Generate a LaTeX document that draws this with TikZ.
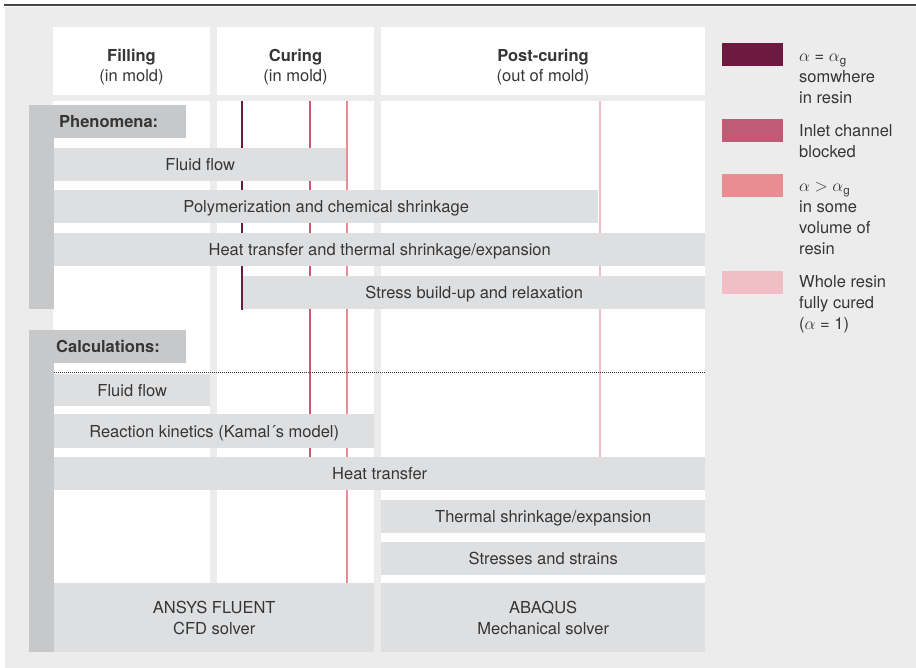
\documentclass[tikz,border=0pt]{standalone}
\usepackage{fontspec}
\setmainfont{TeX Gyre Heros}
\usetikzlibrary{positioning}

\definecolor{bggray}{HTML}{ECECEC}
\definecolor{barfill}{HTML}{DEDFE1}
\definecolor{tagfill}{HTML}{C7C8CA}
\definecolor{txt}{HTML}{363636}
\definecolor{rulegray}{HTML}{444444}
\definecolor{lnDark}{HTML}{6E1A40}
\definecolor{lnMed}{HTML}{C15B76}
\definecolor{lnLight}{HTML}{E98D92}
\definecolor{lnPale}{HTML}{F2BEC6}

\begin{document}
\begin{tikzpicture}[
			x = 1pt, y = -1pt,
			every node/.style = {font=\fontsize{16.5}{21}\selectfont, text=txt},
			colbox/.style = {fill=white, anchor=north west, inner sep=0pt},
			bar/.style    = {fill=barfill, anchor=north west, inner sep=0pt, minimum height=33pt, text height=12.5pt, text depth=0pt},
			solver/.style = {fill=barfill, anchor=north west, inner sep=0pt, minimum height=69pt, align=center},
			tag/.style    = {fill=tagfill, anchor=north west, inner sep=0pt, minimum width=157pt, minimum height=33pt},
			tagtext/.style = {anchor=west, inner sep=0pt, font=\fontsize{16.5}{21}\selectfont\bfseries},
			head/.style   = {anchor=base, inner sep=0pt, align=center, font=\fontsize{16.5}{19.5}\selectfont},
			swatch/.style = {anchor=north west, inner sep=0pt, minimum width=61pt, minimum height=23pt},
			legtext/.style = {anchor=base west, inner sep=0pt, align=left},
			phase/.style  = {line width=1.8pt}
			]
			\useasboundingbox (0,0) rectangle (916,668);

			% background and top rule
			\fill[bggray] (5,7) rectangle (916,668);
			\draw[rulegray, line width=1.5pt] (4,5) -- (916,5);

			% column headers
			\node[colbox, minimum width=157pt, minimum height=68pt] (hdFill) at (53,27) {};
			\node[colbox, minimum width=157pt, minimum height=68pt] (hdCure) at (217,27) {};
			\node[colbox, minimum width=324pt, minimum height=68pt] (hdPost) at (381,27) {};
			\node[head] (tFill) at (131.5,81.5) {\textbf{Filling}\\(in mold)};
			\node[head] (tCure) at (295.5,81.5) {\textbf{Curing}\\(in mold)};
			\node[head] (tPost) at (543,81.5) {\textbf{Post-curing}\\(out of mold)};

			% column bodies
			\node[colbox, minimum width=157pt, minimum height=482pt] (bdFill) at (53,101) {};
			\node[colbox, minimum width=157pt, minimum height=482pt] (bdCure) at (217,101) {};
			\node[colbox, minimum width=324pt, minimum height=482pt] (bdPost) at (381,101) {};

			% state lines
			\foreach \xx/\yy/\cc in {242/310/lnDark, 310/457/lnMed, 347/583/lnLight, 600/457/lnPale}
			\draw[phase, \cc] (\xx,101) -- (\xx,\yy);

			% phenomena
			\node[tag] (tagPhen) at (29,105) {};
			\fill[tagfill] (tagPhen.north west) rectangle (54,309);
			\node[tagtext] (lblPhen) at (59,121.5) {Phenomena:};
			\node[bar, minimum width=292pt] (phFluid) at (54,148) {Fluid flow};
			\node[bar, minimum width=544pt] (phPoly) at (54,190) {Polymerization and chemical shrinkage};
			\node[bar, minimum width=651pt] (phHeat) at (54,233) {Heat transfer and thermal shrinkage/expansion};
			\node[bar, minimum width=462pt] (phStress) at (243,276) {Stress build-up and relaxation};

			% calculations
			\node[tag] (tagCalc) at (29,330) {};
			\fill[tagfill] (tagCalc.north west) rectangle (54,652);
			\node[tagtext] (lblCalc) at (56,346.5) {Calculations:};
			\coordinate (dotL) at (54,372);
			\coordinate (dotR) at (705,372);
			\draw[txt, line width=0.7pt, dash pattern=on 0.8pt off 1.2pt] (dotL) -- (dotR);
			\node[bar, minimum width=156pt, minimum height=32pt] (clFluid) at (54,374) {Fluid flow};
			\node[bar, minimum width=320pt, minimum height=34pt] (clKin) at (54,414) {Reaction kinetics (Kamal´s model)};
			\node[bar, minimum width=651pt] (clHeat) at (54,457) {Heat transfer};
			\node[bar, minimum width=324pt] (clThermal) at (381,500) {Thermal shrinkage/expansion};
			\node[bar, minimum width=324pt] (clStress) at (381,542) {Stresses and strains};
			\node[solver, minimum width=320pt] (solCFD) at (54,583) {ANSYS FLUENT\\CFD solver};
			\node[solver, minimum width=324pt] (solFEM) at (381,583) {ABAQUS\\Mechanical solver};

			% legend
			\foreach \yy/\cc/\nn in {43/lnDark/swDark, 119/lnMed/swMed, 174/lnLight/swLight, 271/lnPale/swPale}
			\node[swatch, fill=\cc] (\nn) at (722,\yy) {};
			\node[legtext] (legDark) at (799,104) {$\alpha$ = $\alpha$\textsubscript{g}\\somwhere\\in resin};
			\node[legtext] (legMed) at (799,158) {Inlet channel\\blocked};
			\node[legtext] (legLight) at (799,255) {$\alpha$ $>$ $\alpha$\textsubscript{g}\\in some\\volume of\\resin};
			\node[legtext] (legPale) at (799,330) {Whole resin\\fully cured\\($\alpha$ = 1)};
		\end{tikzpicture}
\end{document}
